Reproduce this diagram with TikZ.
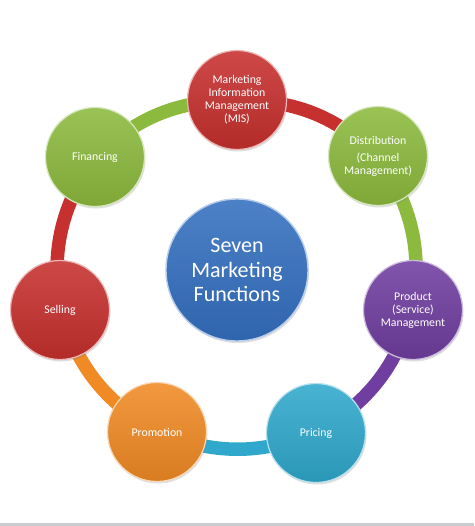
\documentclass[tikz,border=0pt]{standalone}
\usepackage{fontspec}
\setmainfont{Carlito}
\usetikzlibrary{backgrounds,shadows}
\definecolor{cred}{RGB}{198,48,46}
\definecolor{cgreen}{RGB}{140,186,62}
\definecolor{cpurple}{RGB}{112,62,160}
\definecolor{ccyan}{RGB}{48,168,204}
\definecolor{corange}{RGB}{240,138,36}
\definecolor{cblue}{RGB}{52,112,192}
\definecolor{cstrip}{RGB}{200,204,208}
\tikzset{
  func/.style={circle, minimum size=99pt, inner sep=0pt, align=center,
    text=white, font=\fontsize{11.8}{13}\selectfont,
    top color=#1!88!white, bottom color=#1!90!black,
    draw=#1!35!white, line width=1.2pt,
    drop shadow={opacity=0.25, shadow xshift=1pt, shadow yshift=-2pt}},
  hub/.style={circle, minimum size=142pt, inner sep=0pt, align=center,
    text=white, font=\fontsize{22}{24.5}\selectfont,
    top color=cblue!88!white, bottom color=cblue!90!black,
    draw=cblue!35!white, line width=1.4pt,
    drop shadow={opacity=0.25, shadow xshift=1pt, shadow yshift=-2pt}},
  ring/.style={line width=13.5pt, draw=#1, bend left=21}
}
\begin{document}
\begin{tikzpicture}[x=1pt,y=-1pt]
\useasboundingbox (0,0) rectangle (474,526);
\node[hub] (hub) at (237,270) {Seven\\Marketing\\Functions};
\node[func=cred] (mis) at (237,100) {Marketing\\Information\\Management\\(MIS)};
\node[func=cgreen] (dist) at (378,156) {Distribution\\[4pt](Channel\\Management)};
\node[func=cpurple] (prod) at (413,310) {Product\\(Service)\\Management};
\node[func=ccyan] (price) at (316,433) {Pricing};
\node[func=corange] (promo) at (157,432) {Promotion};
\node[func=cred] (sell) at (60,310) {Selling};
\node[func=cgreen] (fin) at (95,157) {Financing};
\begin{pgfonlayer}{background}
\fill[white] (0,0) rectangle (474,526);
\fill[cstrip] (0,523) rectangle (474,526);
\draw[ring=cred] (mis.center) to (dist.center);
\draw[ring=cgreen] (dist.center) to (prod.center);
\draw[ring=cpurple] (prod.center) to (price.center);
\draw[ring=ccyan] (price.center) to (promo.center);
\draw[ring=corange] (promo.center) to (sell.center);
\draw[ring=cred] (sell.center) to (fin.center);
\draw[ring=cgreen] (fin.center) to (mis.center);
\end{pgfonlayer}
\end{tikzpicture}
\end{document}
